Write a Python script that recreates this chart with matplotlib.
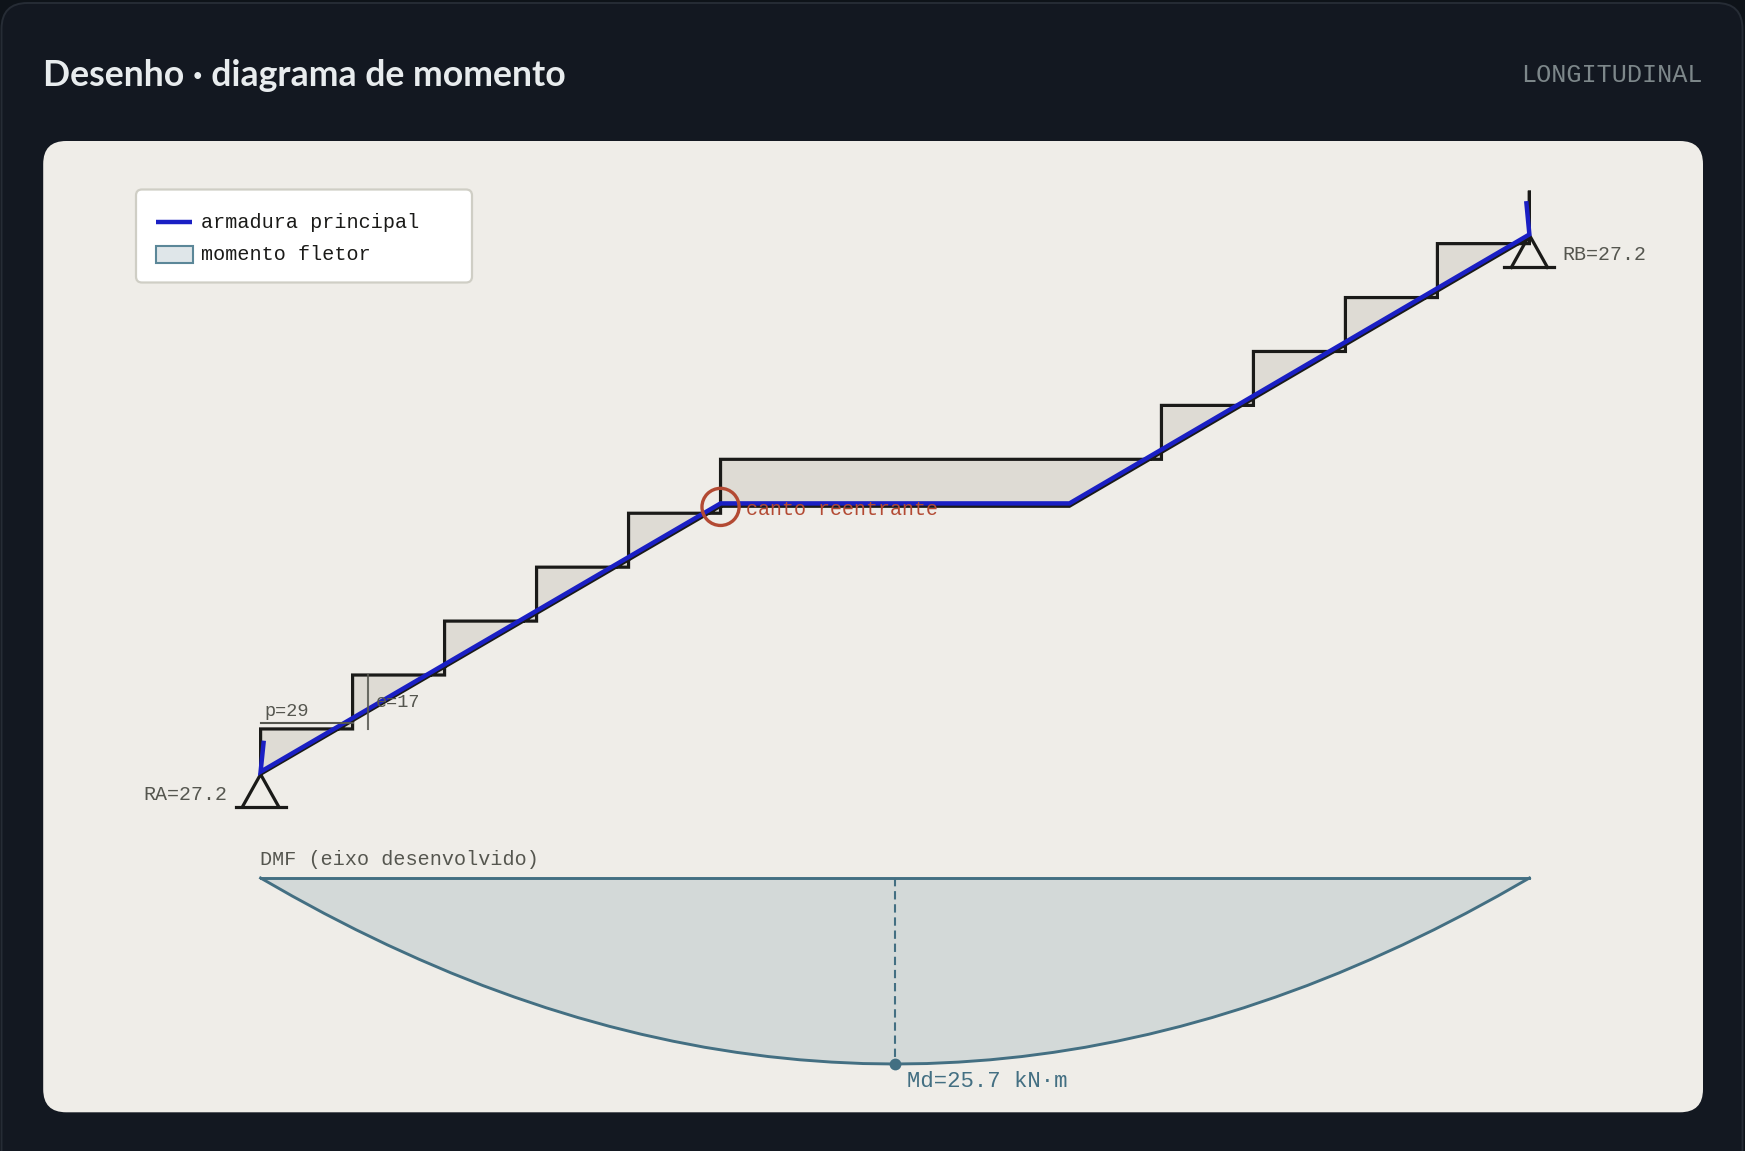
import matplotlib
matplotlib.use('Agg')
import matplotlib.pyplot as plt
from matplotlib.patches import FancyBboxPatch, Circle, Rectangle

W, H = 1745, 1151

# Stair profile in cm (p=29 e=17)
stair_x = [0, 0, 29, 29, 58, 58, 87, 87, 116, 116, 145, 145, 284, 284, 313, 313,
           342, 342, 371, 371, 400, 400, 400, 255, 145, 0]
stair_y = [0, 14.3, 14.3, 31.3, 31.3, 48.3, 48.3, 65.3, 65.3, 82.3, 82.3, 99.3, 99.3, 116.3, 116.3, 133.3,
           133.3, 150.3, 150.3, 167.3, 167.3, 184, 169.3, 84.5, 84.5, 0]

# Main bar with its two hooks
bar_x = [1, 0, 145, 255, 400, 399]
bar_y = [10.6, 0.8, 85.4, 85.4, 170.2, 180.7]

# Supports: apex position
support_x = [0, 400]
support_y = [0, 170]
support_labels = ['RA=27.2', 'RB=27.2']

# Bending moment along the developed axis
moment_x = [0, 10, 20, 30, 40, 50, 60, 70, 80, 90, 100, 110, 120, 130, 140, 150, 160, 170, 180, 190, 200,
            210, 220, 230, 240, 250, 260, 270, 280, 290, 300, 310, 320, 330, 340, 350, 360, 370, 380, 390, 400]
moment_kNm = [0, 2.5, 4.88, 7.13, 9.25, 11.24, 13.11, 14.85, 16.45, 17.93, 19.28, 20.5, 21.59, 22.55, 23.39,
              24.09, 24.67, 25.12, 25.44, 25.64, 25.7,
              25.64, 25.44, 25.12, 24.67, 24.09, 23.39, 22.55, 21.59, 20.5, 19.28, 17.93, 16.45, 14.85, 13.11,
              11.24, 9.25, 7.13, 4.88, 2.5, 0]
Md_x, Md = 200, 25.7

BG = '#0e1319'
CARD = '#131821'
PANEL = '#efede8'
INK = '#1a1a18'
BLUE = '#1a1fc4'
TEAL = '#436f82'
GREY = '#55564f'
RED = '#b34a33'
MONO = 'Liberation Mono'

fig = plt.figure(figsize=(W / 100, H / 100), dpi=100, facecolor=BG)


def overlay(xlim, ylim):
    ax = fig.add_axes([0, 0, 1, 1], facecolor='none')
    ax.set_xlim(*xlim)
    ax.set_ylim(*ylim)
    ax.axis('off')
    return ax


# pixel layer for the card, panel and legend
px = overlay((0, W), (H, 0))
# cm layer for the stair, same scale on both axes
cm = 3.172
x0, y0 = 260.6, 774.3
st = overlay((-x0 / cm, (W - x0) / cm), ((y0 - H) / cm, y0 / cm))
# moment layer, y grows downward from the DMF axis
k = 7.237
dm = overlay((-x0 / cm, (W - x0) / cm), ((H - 878) / k, -878 / k))
# labels go on top of everything
tx = overlay((0, W), (H, 0))

px.add_patch(FancyBboxPatch((1.5, 3), 1741, 1300, boxstyle='round,pad=0,rounding_size=26',
                            fc=CARD, ec='#262c35', lw=1.4))
px.add_patch(FancyBboxPatch((43.2, 141), 1659.8, 971.3, boxstyle='round,pad=0,rounding_size=23',
                            fc=PANEL, ec='none'))
tx.text(43, 85.5, 'Desenho · diagrama de momento', family='Lato', weight='bold', fontsize=25.65,
        color='#e8ecee', va='baseline')
tx.text(1703, 82, 'LONGITUDINAL', family=MONO, fontsize=18.2, color='#7d878a',
        va='baseline', ha='right')

# Legend
px.add_patch(FancyBboxPatch((136, 189.5), 336, 93, boxstyle='round,pad=0,rounding_size=6',
                            fc='white', ec='#cfcec5', lw=1.6))
px.plot([156, 192.5], [221.7, 221.7], color=BLUE, lw=3.2, solid_capstyle='butt')
px.add_patch(Rectangle((156.2, 245.8), 36.6, 17, fc='#dfe6e9', ec='#5b8798', lw=1.5))
tx.text(201, 227.5, 'armadura principal', family=MONO, fontsize=14.5, color=INK, va='baseline')
tx.text(201, 259.5, 'momento fletor', family=MONO, fontsize=14.5, color=INK, va='baseline')

# Stair
st.fill(stair_x, stair_y, color='#dedbd4', lw=0, zorder=1)
st.plot(stair_x, stair_y, color=INK, lw=2.3, solid_joinstyle='miter', zorder=2)
st.plot(bar_x, bar_y, color=BLUE, lw=3.2, solid_joinstyle='miter', solid_capstyle='butt', zorder=3)

# Dimension marks for the first step
st.plot([0, 29], [16.3, 16.3], color=GREY, lw=1.5, zorder=4)
st.plot([34, 34], [14.3, 31.3], color=GREY, lw=1.5, alpha=0.85, zorder=4)
tx.text(264, 715.5, 'p=29', family=MONO, fontsize=13.4, color=GREY, va='baseline')
tx.text(375.5, 707, 'e=17', family=MONO, fontsize=13.4, color=GREY, va='baseline')

# Supports
for sx, sy in zip(support_x, support_y):
    st.plot([sx - 5.7, sx, sx + 5.7], [sy - 10.2, sy, sy - 10.2], color=INK, lw=2.3, zorder=2)
    st.plot([sx - 7.9, sx + 7.9], [sy - 10.2, sy - 10.2], color=INK, lw=2.3, zorder=2)
tx.text(143, 799.5, support_labels[0], family=MONO, fontsize=14.4, color=GREY, va='baseline')
tx.text(1562, 260, support_labels[1], family=MONO, fontsize=14.4, color=GREY, va='baseline')

# Re-entrant corner
st.add_patch(Circle((145, 84.3), 5.85, fc='none', ec=RED, lw=2.4, zorder=5))
tx.text(746, 515, 'canto reentrante', family=MONO, fontsize=14.4, color=RED, va='baseline')

# Moment diagram
dm.fill(moment_x, moment_kNm, color='#d3d9d8', lw=0, zorder=1)
dm.plot(moment_x, moment_kNm, color=TEAL, lw=2.1, zorder=2)
dm.plot([moment_x[0], moment_x[-1]], [0, 0], color=TEAL, lw=2.1, zorder=2)
dm.plot([Md_x, Md_x], [0, Md], color=TEAL, lw=1.5, ls=(0, (4, 2.3)), zorder=2)
dm.plot([Md_x], [Md], 'o', color=TEAL, ms=8.5, mew=0, zorder=3)
tx.text(260.5, 864.5, 'DMF (eixo desenvolvido)', family=MONO, fontsize=14.5, color=GREY, va='baseline')
tx.text(907, 1087, 'Md=25.7 kN·m', family=MONO, fontsize=16, color=TEAL, va='baseline')

fig.savefig('out.png', dpi=100, facecolor=BG)
